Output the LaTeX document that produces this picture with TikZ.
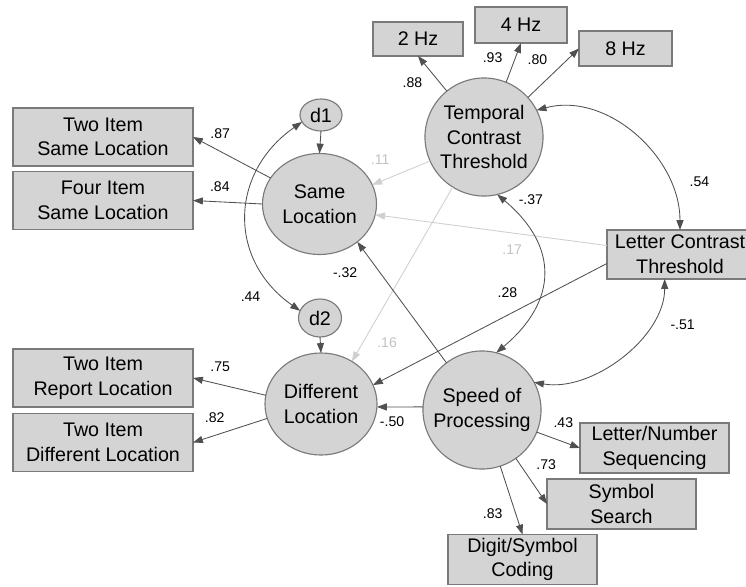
\documentclass[tikz,border=0pt]{standalone}
\usepackage{fontspec}
\setmainfont{Liberation Sans}
\usetikzlibrary{arrows.meta,shapes.geometric}
\definecolor{shade}{HTML}{D4D4D4}
\definecolor{rim}{HTML}{7A7A7A}
\definecolor{wire}{HTML}{505050}
\definecolor{pale}{HTML}{CFCFCF}
\definecolor{palelbl}{HTML}{C2C2C2}

\begin{document}
\begin{tikzpicture}[x=0.025cm,y=-0.025cm,>={Triangle[length=7pt,width=5pt]},line width=0.6pt,
    main node/.style={ellipse,draw=rim,fill=shade,line width=0.8pt,inner sep=0pt,outer sep=0pt,align=center,font=\fontsize{14}{17.5}\selectfont},
    err node/.style={main node},
    obs node/.style={rectangle,draw=rim,fill=shade,line width=0.8pt,inner sep=2pt,outer sep=0pt,align=center,font=\fontsize{14}{17.5}\selectfont},
    wide node/.style={obs node,minimum width=4.5cm,minimum height=1.45cm},
    test node/.style={obs node,minimum width=3.725cm,minimum height=1.25cm},
    coef/.style={font=\fontsize{10}{12}\selectfont,inner sep=0pt,text=black},
    faint coef/.style={coef,text=palelbl}]
            \path[use as bounding box,fill=white] (0,0) rectangle (746,587);

            \node[main node,circle,minimum size=2.95cm] (tct) at (484,137) {Temporal\\Contrast\\Threshold};
            \node[main node,minimum width=2.85cm,minimum height=2.525cm] (same) at (319.5,204) {Same\\Location};
            \node[main node,minimum width=2.8cm,minimum height=2.55cm] (diff) at (321,404) {Different\\Location};
            \node[main node,circle,minimum size=2.95cm] (sop) at (482,410) {Speed of\\Processing};
            \node[err node,minimum width=1.05cm,minimum height=0.8cm] (d1) at (321,115) {d1};
            \node[err node,minimum width=1.075cm,minimum height=0.95cm] (d2) at (320,318) {d2};

            \node[obs node,minimum width=2.25cm,minimum height=0.85cm] (hz2) at (418,39) {2 Hz};
            \node[obs node,minimum width=2.3cm,minimum height=0.9cm] (hz4) at (521,25) {4 Hz};
            \node[obs node,minimum width=2.325cm,minimum height=0.875cm] (hz8) at (625.5,48.5) {8 Hz};
            \node[wide node] (tisl) at (103,137) {Two Item\\Same Location};
            \node[wide node] (fisl) at (103,200.5) {Four Item\\Same Location};
            \node[wide node] (tirl) at (103,378) {Two Item\\Report Location};
            \node[wide node] (tidl) at (103,442.5) {Two Item\\Different Location};
            \node[obs node,minimum width=3.65cm,minimum height=1.225cm] (lct) at (680,254.5) {Letter Contrast\\Threshold};
            \node[test node] (lns) at (654.5,448) {Letter/Number\\Sequencing};
            \node[test node] (ss) at (621.5,504) {Symbol\\Search};
            \node[test node] (dsc) at (522.5,559.5) {Digit/Symbol\\Coding};

            \path[->,color=pale]
                    (tct.204) edge node[faint coef,pos=.5,shift={(-21,-13)}] {.11} (same.20)
                    (tct.238) edge node[faint coef,pos=.8,shift={(15,16)}] {.16} (diff.54)
                    (lct.173) edge node[faint coef,pos=.4,shift={(-2,16)}] {.17} (same.349)
                ;
            \path[->,color=wire]
                    (tct.129) edge node[coef,pos=.5,shift={(-20,9)}] {.88} (hz2.south)
                    (tct.68) edge node[coef,pos=.5,shift={(-21,-5)}] {.93} (hz4.south)
                    (tct.42) edge node[coef,pos=.5,shift={(-16,-13)}] {.80} (hz8.west)
                    (d1.south) edge (same.north)
                    (d2.south) edge (diff.north)
                    (same.152) edge node[coef,pos=.65,shift={(0,-18)}] {.87} (tisl.east)
                    (same.west) edge node[coef,pos=.6,shift={(-1,-15)}] {.84} (fisl.east)
                    (diff.171) edge node[coef,pos=.6,shift={(-2,-18)}] {.75} (tirl.east)
                    (diff.195) edge node[coef,pos=.6,shift={(-8,-15)}] {.82} (tidl.east)
                    (lct.187) edge node[coef,pos=.4,shift={(-6,-19)}] {.28} (diff.20)
                    (sop.127) edge node[coef,pos=.8,shift={(-30,7)}] {-.32} (same.315)
                    (sop.177) edge node[coef,pos=.65,shift={(-1,15)}] {-.50} (diff.357)
                    (sop.338) edge node[coef,pos=.5,shift={(5,-17)}] {.43} (lns.west)
                    (sop.305) edge node[coef,pos=.3,shift={(21,-7)}] {.73} (ss.west)
                    (sop.288) edge node[coef,pos=.65,shift={(-22,3)}] {.83} (dsc.north)
                    (d1.200) edge[<->,out=215,in=145,looseness=1.2] node[coef,pos=.9,shift={(-30,2)}] {.44} (d2.160)
                    (tct.27) edge[<->,out=15,in=90] node[coef,pos=.75,shift={(32,4)}] {.54} (lct.north)
                    (tct.283) edge[<->,out=-40,in=40,looseness=1.3] node[coef,pos=.1,shift={(17,-10)}] {-.37} (sop.76)
                    (lct.238) edge[<->,out=270,in=-10,looseness=0.9] node[coef,pos=.2,shift={(26,11)}] {-.51} (sop.28)
                ;
        \end{tikzpicture}
\end{document}
